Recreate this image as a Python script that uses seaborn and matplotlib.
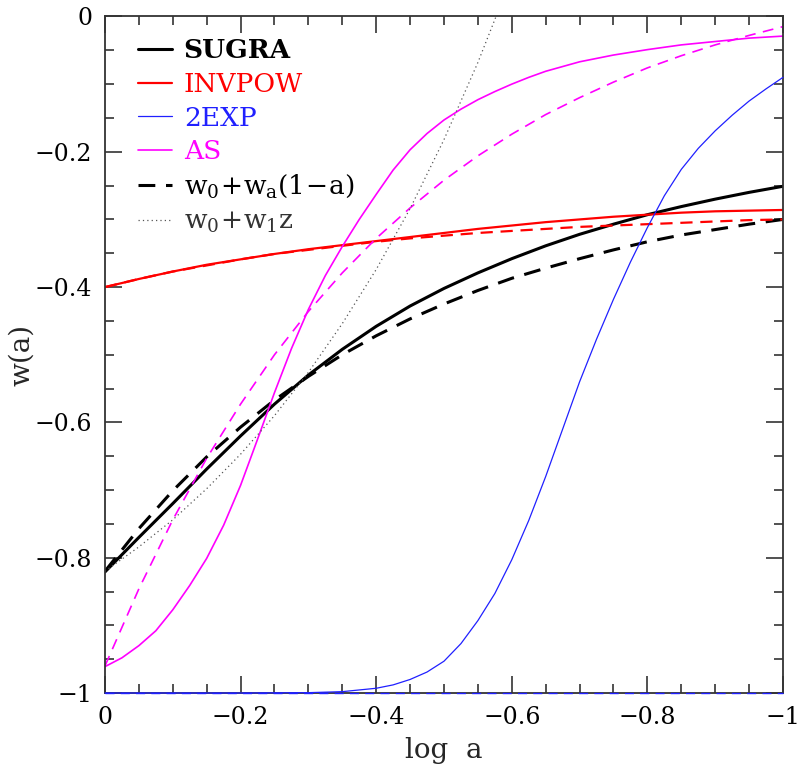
import matplotlib
matplotlib.use("Agg")
import matplotlib.pyplot as plt
import seaborn as sns
from matplotlib.lines import Line2D
from matplotlib.ticker import MultipleLocator

# ---------------- data ----------------
x_main = [0.0, -0.05, -0.10, -0.15, -0.20, -0.25, -0.30, -0.35, -0.40, -0.45, -0.50,
          -0.55, -0.60, -0.65, -0.70, -0.75, -0.80, -0.85, -0.90, -0.95, -1.00]

sugra = [-0.821, -0.770, -0.720, -0.669, -0.620, -0.573, -0.530, -0.492, -0.458, -0.428, -0.402,
         -0.379, -0.358, -0.339, -0.322, -0.307, -0.293, -0.281, -0.270, -0.260, -0.251]
sugra_fit = [-0.820, -0.757, -0.701, -0.651, -0.607, -0.567, -0.532, -0.500, -0.472, -0.447, -0.425,
             -0.405, -0.387, -0.372, -0.358, -0.345, -0.333, -0.323, -0.315, -0.307, -0.300]

invpow = [-0.400, -0.388, -0.377, -0.367, -0.359, -0.351, -0.344, -0.338, -0.332, -0.326, -0.320,
          -0.314, -0.309, -0.304, -0.300, -0.296, -0.293, -0.290, -0.288, -0.287, -0.286]
invpow_fit = [-0.400, -0.388, -0.377, -0.368, -0.359, -0.351, -0.345, -0.339, -0.333, -0.328, -0.324,
              -0.320, -0.317, -0.314, -0.311, -0.309, -0.307, -0.305, -0.303, -0.301, -0.300]

x_2exp = [0.0, -0.10, -0.20, -0.30, -0.35, -0.40, -0.425, -0.45, -0.475, -0.50, -0.525, -0.55, -0.575,
          -0.60, -0.625, -0.65, -0.675, -0.70, -0.725, -0.75, -0.775, -0.80, -0.825, -0.85, -0.875,
          -0.90, -0.925, -0.95, -0.975, -1.00]
twoexp = [-1.000, -1.000, -1.000, -0.9995, -0.998, -0.993, -0.988, -0.980, -0.969, -0.953, -0.927, -0.893,
          -0.853, -0.803, -0.745, -0.680, -0.610, -0.540, -0.477, -0.418, -0.363, -0.312, -0.265, -0.226,
          -0.195, -0.169, -0.146, -0.125, -0.107, -0.090]
twoexp_fit = [-1.0] * 21

x_as = [0.0, -0.025, -0.05, -0.075, -0.10, -0.125, -0.15, -0.175, -0.20, -0.225, -0.25, -0.275,
        -0.30, -0.325, -0.35, -0.375, -0.40, -0.425, -0.45, -0.475, -0.50, -0.525, -0.55, -0.575,
        -0.60, -0.625, -0.65, -0.70, -0.75, -0.80, -0.85, -0.90, -0.95, -1.00]
as_model = [-0.961, -0.948, -0.930, -0.908, -0.877, -0.841, -0.801, -0.752, -0.693, -0.625, -0.556, -0.491,
            -0.433, -0.383, -0.340, -0.300, -0.263, -0.227, -0.197, -0.173, -0.153, -0.137, -0.123, -0.111,
            -0.100, -0.090, -0.081, -0.067, -0.057, -0.049, -0.042, -0.037, -0.032, -0.029]
as_fit = [-0.960, -0.846, -0.744, -0.653, -0.573, -0.500, -0.436, -0.379, -0.328, -0.283, -0.242,
          -0.206, -0.174, -0.145, -0.120, -0.097, -0.076, -0.058, -0.042, -0.028, -0.015]

x_lin = [0.0, -0.05, -0.10, -0.15, -0.20, -0.25, -0.30, -0.35, -0.40, -0.45, -0.50, -0.55, -0.60]
sugra_lin = [-0.820, -0.784, -0.744, -0.698, -0.647, -0.590, -0.526, -0.454, -0.374, -0.284, -0.182, -0.068, 0.059]

tick_vals = [0.0, -0.2, -0.4, -0.6, -0.8, -1.0]
tick_labels = ["0", "\u22120.2", "\u22120.4", "\u22120.6", "\u22120.8", "\u22121"]

legend_labels = ["SUGRA", "INVPOW", "2EXP", "AS",
                 r"$\mathrm{w_0\!+\!w_a(1\!-\!a)}$", r"$\mathrm{w_0\!+\!w_1z}$"]

# ---------------- style ----------------
sns.set_theme(style="ticks")
plt.rcParams["font.family"] = ["DejaVu Serif", "DejaVu Sans"]
plt.rcParams["mathtext.fontset"] = "dejavuserif"

fig = plt.figure(figsize=(8.02, 7.70), dpi=100)
ax = fig.add_axes([0.1309, 0.1000, 0.8454, 0.8786])

RED, BLUE, MAG, BLK, GRY = "#ff0000", "#2020ff", "#ff00ff", "#000000", "#555555"
dash_k = (0, (5.5, 3.5))
dash_m = (0, (6.5, 4.5))

def line(x, y, **kw):
    sns.lineplot(x=x, y=y, ax=ax, sort=False, estimator=None, **kw)

line(x_main, sugra, color=BLK, linewidth=2.2)
line(x_main, sugra_fit, color=BLK, linewidth=2.2, linestyle=dash_k)
line(x_main, invpow, color=RED, linewidth=1.6)
line(x_main, invpow_fit, color=RED, linewidth=1.6, linestyle=dash_k)
line(x_main, twoexp_fit, color=BLUE, linewidth=1.0, linestyle=dash_m, zorder=3, clip_on=False)
line(x_2exp, twoexp, color=BLUE, linewidth=0.9, zorder=3, clip_on=False)
line(x_as, as_model, color=MAG, linewidth=1.2)
line(x_main, as_fit, color=MAG, linewidth=1.2, linestyle=dash_m)
line(x_lin, sugra_lin, color=GRY, linewidth=0.9, linestyle=(0, (1, 2.5)))

ax.set_xlim(0, -1)
ax.set_ylim(-1, 0)
ax.set_xticks(tick_vals)
ax.set_xticklabels(tick_labels)
ax.set_yticks(tick_vals)
ax.set_yticklabels(tick_labels)
ax.xaxis.set_minor_locator(MultipleLocator(0.05))
ax.yaxis.set_minor_locator(MultipleLocator(0.05))
ax.tick_params(which="both", direction="in", top=True, right=True, width=1.1, colors="#222222")
ax.tick_params(which="major", length=12, labelsize=17, pad=9, labelcolor="black")
ax.tick_params(which="minor", length=6.5)
for s in ax.spines.values():
    s.set_linewidth(1.3)
    s.set_color("#333333")

ax.set_xlabel("log  a", fontsize=20, labelpad=6)
ax.set_ylabel("w(a)", fontsize=20, labelpad=0)

# legend
handles = [
    Line2D([], [], color=BLK, linewidth=2.2),
    Line2D([], [], color=RED, linewidth=1.6),
    Line2D([], [], color=BLUE, linewidth=0.9),
    Line2D([], [], color=MAG, linewidth=1.2),
    Line2D([], [], color=BLK, linewidth=2.2, linestyle=dash_k),
    Line2D([], [], color=GRY, linewidth=0.9, linestyle=(0, (1, 2.5))),
]
leg = ax.legend(handles, legend_labels, loc="upper left", bbox_to_anchor=(0.048, 0.968),
                frameon=False, fontsize=19, handlelength=1.3, handletextpad=0.45,
                labelspacing=0.33, borderpad=0, borderaxespad=0)
text_colors = [BLK, RED, BLUE, MAG, BLK, "#333333"]
for t, c in zip(leg.get_texts(), text_colors):
    t.set_color(c)
leg.get_texts()[0].set_fontweight("bold")

fig.savefig("out.png", dpi=100)
